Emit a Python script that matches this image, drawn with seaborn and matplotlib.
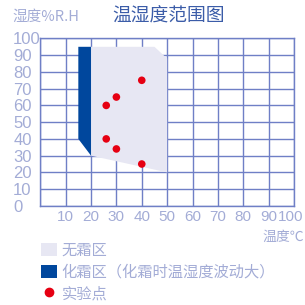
import numpy as np
import matplotlib
matplotlib.use("Agg")
import matplotlib.pyplot as plt
import matplotlib.transforms as mtransforms
import seaborn as sns
from matplotlib.patches import Polygon, Patch
from matplotlib.lines import Line2D

# frost-free region outline (temp, humidity)
free_t = [20, 45, 50, 50, 20]
free_h = [95, 95, 88, 20, 30]
# frost region outline
frost_t = [15, 20, 20, 15]
frost_h = [95, 95, 30, 40]
# experiment points
exp_t = [26, 30, 40, 26, 30, 40]
exp_h = [60, 65, 75, 40, 34, 25]

x_ticks = [10, 20, 30, 40, 50, 60, 70, 80, 90, 100]
y_ticks = [0, 10, 20, 30, 40, 50, 60, 70, 80, 90, 100]

sns.set_style("white")
plt.rcParams['font.family'] = ['Noto Sans CJK SC', 'DejaVu Sans']
num_font = ['Liberation Sans Narrow', 'Liberation Sans', 'DejaVu Sans']

grid_c = '#6f7fc6'
label_c = '#a3acd6'
title_c = '#3b5ca8'
free_c = '#e7e7f3'
frost_c = '#00479d'
dot_c = '#e60012'

fig = plt.figure(figsize=(3.05, 3.05), dpi=100)
ax = fig.add_axes([0.132, 0.325, 0.832, 0.549])

ax.add_patch(Polygon(np.column_stack([free_t, free_h]), closed=True, fc=free_c, ec='none', zorder=1))
ax.add_patch(Polygon(np.column_stack([frost_t, frost_h]), closed=True, fc=frost_c, ec='none', zorder=1))
sns.scatterplot(x=exp_t, y=exp_h, color=dot_c, s=30, edgecolor='none', zorder=3, ax=ax)

ax.set_xlim(0, 100)
ax.set_ylim(0, 100)
ax.set_xticks(range(0, 101, 10))
ax.set_xticklabels([''] + [str(v) for v in x_ticks], family=num_font)
ax.set_yticks(y_ticks)
ax.set_yticklabels([str(v) for v in y_ticks], family=num_font)
ax.grid(True, color=grid_c, lw=1, zorder=0)
ax.set_axisbelow(True)
for s in ax.spines.values():
    s.set_color(grid_c)
    s.set_linewidth(1)
ax.tick_params(length=0, colors=label_c, labelsize=12)
ax.tick_params(axis='x', pad=3, labelsize=11)
ax.tick_params(axis='y', pad=19.5)
for t in ax.get_yticklabels():
    t.set_ha('left')
# nudge last x label so it stays inside the image
last = ax.get_xticklabels()[-1]
last.set_transform(last.get_transform() + mtransforms.ScaledTranslation(-3 / 100, 0, fig.dpi_scale_trans))

fig.text(0.042, 0.945, '湿度%R.H', color=label_c, fontsize=10.5, va='center', ha='left')
fig.text(0.367, 0.948, '温湿度范围图', color=title_c, fontsize=13.5, va='center', ha='left')
fig.text(0.997, 0.222, '温度℃', color=label_c, fontsize=10, va='center', ha='right')

handles = [Patch(fc=free_c, ec='none'),
           Patch(fc=frost_c, ec='none'),
           Line2D([], [], ls='none', marker='o', color=dot_c, ms=6)]
labels = ['无霜区', '化霜区（化霜时温湿度波动大）', '实验点']
fig.legend(handles, labels, loc='upper left', bbox_to_anchor=(0.11, 0.232), frameon=False,
           labelcolor=label_c, fontsize=11, handlelength=1.05, handleheight=0.95,
           handletextpad=0.3, labelspacing=0.3, borderpad=0)

fig.savefig('out.png', dpi=100)
